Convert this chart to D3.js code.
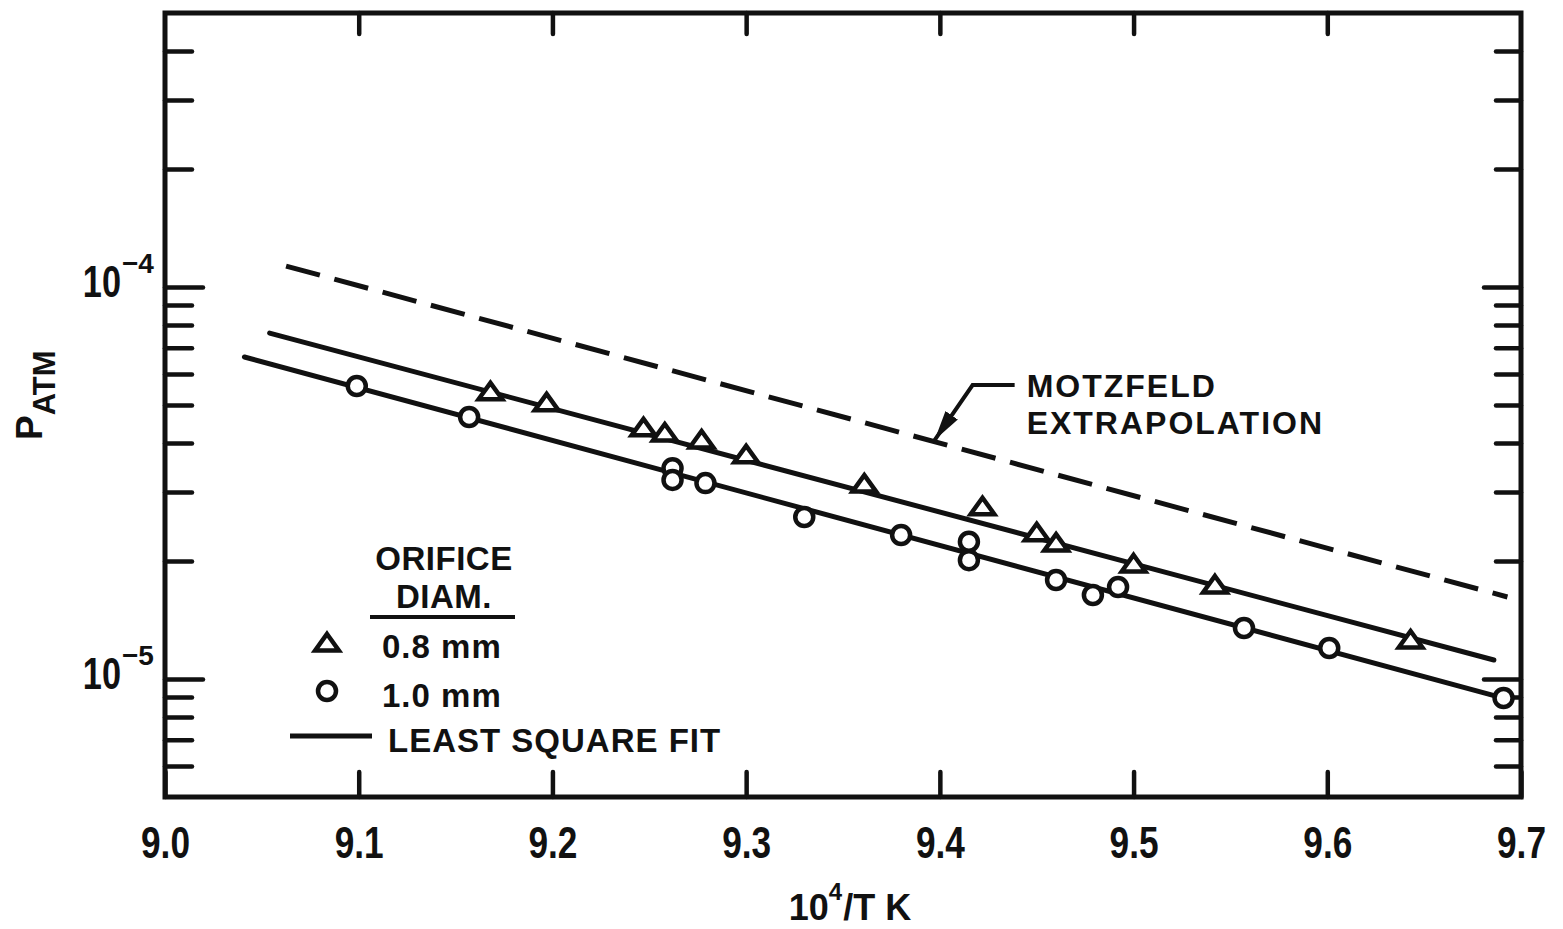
<!DOCTYPE html>
<html>
<head>
<meta charset="utf-8">
<script src="https://cdn.jsdelivr.net/npm/d3@7"></script>
<style>
  body { margin: 0; background: #fff; }
  svg text { font-family: "Liberation Sans", Arial, sans-serif; font-weight: bold; fill: #111; }
</style>
</head>
<body>
<div id="chart"></div>
<script>
// x axis: 10^4 / T (K)
var xTicks = [9.0, 9.1, 9.2, 9.3, 9.4, 9.5, 9.6, 9.7];
var xLabels = ['9.0', '9.1', '9.2', '9.3', '9.4', '9.5', '9.6', '9.7'];

// y axis: pressure in atm, log scale
var yMajor = [1e-4, 1e-5];
var yMajorExp = ['\u22124', '\u22125'];
var yMinor = [4e-4, 3e-4, 2e-4, 9e-5, 8e-5, 7e-5, 6e-5, 5e-5, 4e-5, 3e-5, 2e-5, 9e-6, 8e-6, 7e-6, 6e-6];

// 0.8 mm orifice (triangles)
var triX = [9.168, 9.197, 9.247, 9.258, 9.277, 9.300, 9.361, 9.422, 9.450, 9.460, 9.500, 9.542, 9.643];
var triP = [5.40e-5, 5.06e-5, 4.37e-5, 4.24e-5, 4.07e-5, 3.73e-5, 3.14e-5, 2.75e-5, 2.36e-5, 2.22e-5, 1.965e-5, 1.737e-5, 1.257e-5];

// 1.0 mm orifice (circles)
var circX = [9.099, 9.157, 9.262, 9.262, 9.279, 9.330, 9.380, 9.415, 9.415, 9.460, 9.479, 9.492, 9.557, 9.601, 9.691];
var circP = [5.59e-5, 4.66e-5, 3.45e-5, 3.22e-5, 3.16e-5, 2.59e-5, 2.33e-5, 2.24e-5, 2.01e-5, 1.789e-5, 1.638e-5, 1.717e-5, 1.349e-5, 1.20e-5, 8.94e-6];

// least square fits (end points)
var fit08X = [9.054, 9.686];
var fit08P = [7.63e-5, 1.118e-5];
var fit10X = [9.041, 9.689];
var fit10P = [6.63e-5, 8.99e-6];

// Motzfeld extrapolation (dashed)
var motzX = [9.0625, 9.693];
var motzP = [1.131e-4, 1.619e-5];

// arrow pointing at the dashed line: end of leader, elbow, tip
var arrowX = [9.4386, 9.4169, 9.3973];
var arrowP = [5.62e-5, 5.62e-5, 4.07e-5];

var annoLines = ['MOTZFELD', 'EXTRAPOLATION'];
var legendHead = ['ORIFICE', 'DIAM.'];
var legendLabels = ['0.8 mm', '1.0 mm', 'LEAST SQUARE FIT'];

// svg area
var svgWidth = 1563;
var svgHeight = 929;

var margin = { top: 13, right: 42, bottom: 132, left: 165 };
var chartWidth = svgWidth - margin.left - margin.right;
var chartHeight = svgHeight - margin.top - margin.bottom;

var svg = d3.select('#chart')
    .append('svg')
    .attr('width', svgWidth)
    .attr('height', svgHeight);

var defs = svg.append('defs');
defs.append('marker')
    .attr('id', 'arrowHead')
    .attr('markerUnits', 'userSpaceOnUse')
    .attr('markerWidth', 32)
    .attr('markerHeight', 18)
    .attr('viewBox', '0 0 32 18')
    .attr('refX', 30)
    .attr('refY', 9)
    .attr('orient', 'auto')
    .append('path')
    .attr('d', 'M0,1.5 L30,9 L0,16.5 Z')
    .attr('fill', '#111');

var chartGroup = svg.append('g')
    .attr('transform', `translate(${margin.left}, ${margin.top})`);

var xScale = d3.scaleLinear()
    .domain([9.0, 9.7])
    .range([0, chartWidth]);

var yScale = d3.scaleLog()
    .domain([5e-6, 5e-4])
    .range([chartHeight, 0]);

// ticks, all pointing inward
var tickStyle = g => {
    g.select('.domain').remove();
    g.selectAll('.tick line')
        .attr('stroke', '#111')
        .attr('stroke-width', 4.5)
        .attr('stroke-linecap', 'round');
};

chartGroup.append('g')
    .attr('transform', `translate(0, ${chartHeight})`)
    .call(d3.axisBottom(xScale).tickValues(xTicks).tickSize(-25).tickFormat((d, i) => xLabels[i]))
    .call(tickStyle)
    .call(g => g.selectAll('.tick text')
        .attr('y', 61)
        .attr('dy', 0)
        .attr('transform', 'scale(0.8,1)')
        .style('font-size', '44px')
        .style('font-family', '"Liberation Sans", Arial, sans-serif')
        .style('font-weight', 'bold')
        .attr('fill', '#111'));

chartGroup.append('g')
    .call(d3.axisTop(xScale).tickValues(xTicks.slice(1, -1)).tickSize(-21).tickFormat(''))
    .call(tickStyle);

chartGroup.append('g')
    .call(d3.axisLeft(yScale).tickValues(yMinor).tickSize(-27).tickFormat(''))
    .call(tickStyle);
chartGroup.append('g')
    .call(d3.axisLeft(yScale).tickValues(yMajor).tickSize(-38).tickFormat(''))
    .call(tickStyle);

chartGroup.append('g')
    .attr('transform', `translate(${chartWidth}, 0)`)
    .call(d3.axisRight(yScale).tickValues(yMinor).tickSize(-25).tickFormat(''))
    .call(tickStyle);
chartGroup.append('g')
    .attr('transform', `translate(${chartWidth}, 0)`)
    .call(d3.axisRight(yScale).tickValues(yMajor).tickSize(-37).tickFormat(''))
    .call(tickStyle);

// frame
chartGroup.append('rect')
    .attr('width', chartWidth)
    .attr('height', chartHeight)
    .attr('fill', 'none')
    .attr('stroke', '#111')
    .attr('stroke-width', 5);

// y tick labels 10^-4, 10^-5
var yLab = chartGroup.selectAll('.ylab')
    .data(yMajor)
    .enter()
    .append('g')
    .attr('class', 'ylab');
yLab.append('text')
    .attr('text-anchor', 'end')
    .attr('transform', d => `translate(-44, ${yScale(d) + 10}) scale(0.78,1)`)
    .style('font-size', '44px')
    .text('10');
yLab.append('text')
    .attr('x', -43)
    .attr('y', d => yScale(d) - 14)
    .style('font-size', '28px')
    .text((d, i) => yMajorExp[i]);

// lines
var line = d3.line()
    .x(d => xScale(d[0]))
    .y(d => yScale(d[1]));

chartGroup.append('path')
    .datum(d3.zip(motzX, motzP))
    .attr('d', line)
    .attr('fill', 'none')
    .attr('stroke', '#111')
    .attr('stroke-width', 5)
    .attr('stroke-dasharray', '35,15');

[[fit08X, fit08P], [fit10X, fit10P]].forEach(s => {
    chartGroup.append('path')
        .datum(d3.zip(s[0], s[1]))
        .attr('d', line)
        .attr('fill', 'none')
        .attr('stroke', '#111')
        .attr('stroke-width', 5)
        .attr('stroke-linecap', 'round');
});

// flattened triangle symbol
var flatTriangle = {
    draw: function(context, size) {
        var w = Math.sqrt(size) * 0.72;
        var h = Math.sqrt(size) * 1.0;
        context.moveTo(0, -h * 0.55);
        context.lineTo(w, h * 0.45);
        context.lineTo(-w, h * 0.45);
        context.closePath();
    }
};
var triSymbol = d3.symbol().type(flatTriangle).size(270);

chartGroup.selectAll('.tri')
    .data(d3.zip(triX, triP))
    .enter()
    .append('path')
    .attr('class', 'tri')
    .attr('d', triSymbol)
    .attr('transform', d => `translate(${xScale(d[0])}, ${yScale(d[1])})`)
    .attr('fill', '#fff')
    .attr('stroke', '#111')
    .attr('stroke-width', 4.5)
    .attr('stroke-linejoin', 'miter');

chartGroup.selectAll('.circ')
    .data(d3.zip(circX, circP))
    .enter()
    .append('circle')
    .attr('class', 'circ')
    .attr('cx', d => xScale(d[0]))
    .attr('cy', d => yScale(d[1]))
    .attr('r', 9)
    .attr('fill', '#fff')
    .attr('stroke', '#111')
    .attr('stroke-width', 4.5);

// Motzfeld annotation
chartGroup.append('path')
    .datum(d3.zip(arrowX, arrowP))
    .attr('d', line)
    .attr('fill', 'none')
    .attr('stroke', '#111')
    .attr('stroke-width', 4)
    .attr('marker-end', 'url(#arrowHead)');

var annoX = xScale(arrowX[0]) + 12;
var annoY = yScale(arrowP[0]);
chartGroup.selectAll('.anno')
    .data(annoLines)
    .enter()
    .append('text')
    .attr('class', 'anno')
    .attr('x', annoX)
    .attr('y', (d, i) => annoY + 12 + i * 37)
    .style('font-size', '32px')
    .style('letter-spacing', '2px')
    .text(d => d);

// legend
var legend = svg.append('g');
legend.selectAll('.lhead')
    .data(legendHead)
    .enter()
    .append('text')
    .attr('x', 444)
    .attr('y', (d, i) => 570 + i * 38)
    .attr('text-anchor', 'middle')
    .style('font-size', '33px')
    .style('letter-spacing', '0.5px')
    .text(d => d);
legend.append('line')
    .attr('x1', 370).attr('x2', 515)
    .attr('y1', 617).attr('y2', 617)
    .attr('stroke', '#111')
    .attr('stroke-width', 4);
legend.append('path')
    .attr('d', triSymbol)
    .attr('transform', 'translate(327, 643)')
    .attr('fill', '#fff')
    .attr('stroke', '#111')
    .attr('stroke-width', 4.5);
legend.append('circle')
    .attr('cx', 327).attr('cy', 691).attr('r', 9)
    .attr('fill', '#fff')
    .attr('stroke', '#111')
    .attr('stroke-width', 4.5);
legend.append('line')
    .attr('x1', 290).attr('x2', 372)
    .attr('y1', 736).attr('y2', 736)
    .attr('stroke', '#111')
    .attr('stroke-width', 5);
legend.selectAll('.ltext')
    .data(legendLabels)
    .enter()
    .append('text')
    .attr('x', (d, i) => i === 2 ? 388 : 382)
    .attr('y', (d, i) => [658, 707, 752][i])
    .style('font-size', '33px')
    .style('letter-spacing', '1px')
    .text(d => d);

// axis titles
var yTitle = svg.append('text')
    .attr('transform', 'translate(42, 440) rotate(-90)')
    .style('font-size', '37px');
yTitle.append('tspan').text('P');
yTitle.append('tspan').attr('dy', 13).style('font-size', '31px').text('ATM');

var xTitle = svg.append('text')
    .attr('x', 850)
    .attr('y', 920)
    .attr('text-anchor', 'middle')
    .style('font-size', '36px')
    .style('font-weight', 'bold');
xTitle.append('tspan').text('10');
xTitle.append('tspan').attr('dy', -20).style('font-size', '24px').text('4');
xTitle.append('tspan').attr('dy', 20).attr('dx', 1).text('/T K');
</script>
</body>
</html>
